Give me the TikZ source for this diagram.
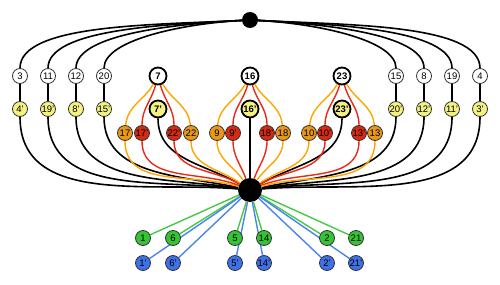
\documentclass[tikz,border=0pt]{standalone}
\usepackage{fontspec}
\setmainfont{Liberation Sans}
\usepackage{tikz}
\usetikzlibrary{backgrounds}
\usepackage{xcolor}
\definecolor{vyellow}{RGB}{242,242,130}
\definecolor{vorange}{RGB}{232,152,22}
\definecolor{vred}{RGB}{212,42,20}
\definecolor{vgreen}{RGB}{52,196,52}
\definecolor{vblue}{RGB}{62,112,232}
\definecolor{lorange}{RGB}{255,165,0}
\definecolor{lred}{RGB}{238,40,20}
\definecolor{lgreen}{RGB}{70,202,70}
\definecolor{lblue}{RGB}{72,132,242}

\begin{document}
\begin{tikzpicture}[x=1pt, y=1pt,
    vert/.style={circle, draw=black!80, line width=0.8pt, fill=white,
        minimum size=15pt, inner sep=0pt, font=\fontsize{9.5}{11}\selectfont},
    keyvert/.style={vert, draw=black, line width=1.8pt, minimum size=17pt,
        font=\fontsize{9.5}{11}\selectfont\bfseries},
    hub/.style={circle, fill=black, inner sep=0pt},
    edge/.style={line width=1.6pt, black},
    oedge/.style={line width=1.4pt, lorange},
    redge/.style={line width=1.4pt, lred},
    gedge/.style={line width=1.4pt, lgreen},
    bedge/.style={line width=1.4pt, lblue}
]
    \useasboundingbox (0,0) rectangle (500,284);
    % hubs
    \node[hub, minimum size=16pt] (top) at (250,264) {};
    \node[hub, minimum size=24pt] (bot) at (250,94) {};
    % top row
    \node[vert] (n3)  at (20,208)  {3};
    \node[vert] (n11) at (48,208)  {11};
    \node[vert] (n12) at (76,208)  {12};
    \node[vert] (n20) at (104,208) {20};
    \node[keyvert] (n7)  at (158,208) {7};
    \node[keyvert] (n16) at (250,208) {16};
    \node[keyvert] (n23) at (342,208) {23};
    \node[vert] (n15) at (396,208) {15};
    \node[vert] (n8)  at (424,208) {8};
    \node[vert] (n19) at (452,208) {19};
    \node[vert] (n4)  at (480,208) {4};
    % second row
    \node[vert, fill=vyellow] (n4p)  at (20,175)  {4'};
    \node[vert, fill=vyellow] (n19p) at (48,175)  {19'};
    \node[vert, fill=vyellow] (n8p)  at (76,175)  {8'};
    \node[vert, fill=vyellow] (n15p) at (104,175) {15'};
    \node[keyvert, fill=vyellow] (n7p)  at (158,175) {7'};
    \node[keyvert, fill=vyellow] (n16p) at (250,175) {16'};
    \node[keyvert, fill=vyellow] (n23p) at (342,175) {23'};
    \node[vert, fill=vyellow] (n20p) at (396,175) {20'};
    \node[vert, fill=vyellow] (n12p) at (424,175) {12'};
    \node[vert, fill=vyellow] (n11p) at (452,175) {11'};
    \node[vert, fill=vyellow] (n3p)  at (480,175) {3'};
    % third row
    \node[vert, fill=vorange] (n17)  at (125,151) {17};
    \node[vert, fill=vred]    (n17p) at (142,151) {17'};
    \node[vert, fill=vred]    (n22p) at (174,151) {22'};
    \node[vert, fill=vorange] (n22)  at (191,151) {22};
    \node[vert, fill=vorange] (n9)   at (217,151) {9};
    \node[vert, fill=vred]    (n9p)  at (233,151) {9'};
    \node[vert, fill=vred]    (n18p) at (267,151) {18'};
    \node[vert, fill=vorange] (n18)  at (283,151) {18};
    \node[vert, fill=vorange] (n10)  at (309,151) {10};
    \node[vert, fill=vred]    (n10p) at (325,151) {10'};
    \node[vert, fill=vred]    (n13p) at (359,151) {13'};
    \node[vert, fill=vorange] (n13)  at (375,151) {13};
    % bottom rows
    \node[vert, fill=vgreen] (n1)  at (143,46) {1};
    \node[vert, fill=vgreen] (n6)  at (173,46) {6};
    \node[vert, fill=vgreen] (n5)  at (235,46) {5};
    \node[vert, fill=vgreen] (n14) at (264,46) {14};
    \node[vert, fill=vgreen] (n2)  at (327,46) {2};
    \node[vert, fill=vgreen] (n21) at (356,46) {21};
    \node[vert, fill=vblue] (n1p)  at (143,21) {1'};
    \node[vert, fill=vblue] (n6p)  at (173,21) {6'};
    \node[vert, fill=vblue] (n5p)  at (235,21) {5'};
    \node[vert, fill=vblue] (n14p) at (264,21) {14'};
    \node[vert, fill=vblue] (n2p)  at (327,21) {2'};
    \node[vert, fill=vblue] (n21p) at (356,21) {21'};
    \begin{scope}[on background layer]
    % top hub to outer vertices
    \draw[edge] (top) to[out=183, in=90, in looseness=0.5] (n3);
    \draw[edge] (top) to[out=183, in=90, in looseness=0.5] (n11);
    \draw[edge] (top) to[out=183, in=90, in looseness=0.5] (n12);
    \draw[edge] (top) to[out=183, in=90, in looseness=0.5] (n20);
    \draw[edge] (top) to[out=-3, in=90, in looseness=0.5] (n15);
    \draw[edge] (top) to[out=-3, in=90, in looseness=0.5] (n8);
    \draw[edge] (top) to[out=-3, in=90, in looseness=0.5] (n19);
    \draw[edge] (top) to[out=-3, in=90, in looseness=0.5] (n4);
    \draw[edge] (n3) -- (n4p);
    \draw[edge] (n11) -- (n19p);
    \draw[edge] (n12) -- (n8p);
    \draw[edge] (n20) -- (n15p);
    \draw[edge] (n15) -- (n20p);
    \draw[edge] (n8) -- (n12p);
    \draw[edge] (n19) -- (n11p);
    \draw[edge] (n4) -- (n3p);
    % second row to bottom hub
    \draw[edge] (n4p)  to[out=-90, in=175] (bot);
    \draw[edge] (n19p) to[out=-90, in=173] (bot);
    \draw[edge] (n8p)  to[out=-90, in=171] (bot);
    \draw[edge] (n15p) to[out=-90, in=168] (bot);
    \draw[edge] (n7p)  to[out=-90, in=150] (bot);
    \draw[edge] (n16p) -- (bot);
    \draw[edge] (n23p) to[out=-90, in=30] (bot);
    \draw[edge] (n20p) to[out=-90, in=12] (bot);
    \draw[edge] (n12p) to[out=-90, in=9] (bot);
    \draw[edge] (n11p) to[out=-90, in=7] (bot);
    \draw[edge] (n3p)  to[out=-90, in=5] (bot);
    % key vertices to third row
    \draw[oedge] (n7) to[out=240, in=85] (n17);
    \draw[redge] (n7) to[out=255, in=90] (n17p);
    \draw[redge] (n7) to[out=285, in=90] (n22p);
    \draw[oedge] (n7) to[out=300, in=95] (n22);
    \draw[oedge] (n16) to[out=240, in=85] (n9);
    \draw[redge] (n16) to[out=255, in=90] (n9p);
    \draw[redge] (n16) to[out=285, in=90] (n18p);
    \draw[oedge] (n16) to[out=300, in=95] (n18);
    \draw[oedge] (n23) to[out=240, in=85] (n10);
    \draw[redge] (n23) to[out=255, in=90] (n10p);
    \draw[redge] (n23) to[out=285, in=90] (n13p);
    \draw[oedge] (n23) to[out=300, in=95] (n13);
    % third row to bottom hub
    \draw[oedge] (n17)  to[out=-90, in=163] (bot);
    \draw[redge] (n17p) to[out=-90, in=158] (bot);
    \draw[redge] (n22p) to[out=-90, in=150] (bot);
    \draw[oedge] (n22)  to[out=-90, in=145] (bot);
    \draw[oedge] (n9)   to[out=-90, in=125] (bot);
    \draw[redge] (n9p)  to[out=-90, in=110] (bot);
    \draw[redge] (n18p) to[out=-90, in=70] (bot);
    \draw[oedge] (n18)  to[out=-90, in=55] (bot);
    \draw[oedge] (n10)  to[out=-90, in=35] (bot);
    \draw[redge] (n10p) to[out=-90, in=30] (bot);
    \draw[redge] (n13p) to[out=-90, in=22] (bot);
    \draw[oedge] (n13)  to[out=-90, in=17] (bot);
    % bottom hub to green and blue
    \draw[gedge] (bot) -- (n1);
    \draw[gedge] (bot) -- (n6);
    \draw[gedge] (bot) -- (n5);
    \draw[gedge] (bot) -- (n14);
    \draw[gedge] (bot) -- (n2);
    \draw[gedge] (bot) -- (n21);
    \draw[bedge] (bot) -- (n1p);
    \draw[bedge] (bot) -- (n6p);
    \draw[bedge] (bot) -- (n5p);
    \draw[bedge] (bot) -- (n14p);
    \draw[bedge] (bot) -- (n2p);
    \draw[bedge] (bot) -- (n21p);
    \end{scope}
\end{tikzpicture}
\end{document}
